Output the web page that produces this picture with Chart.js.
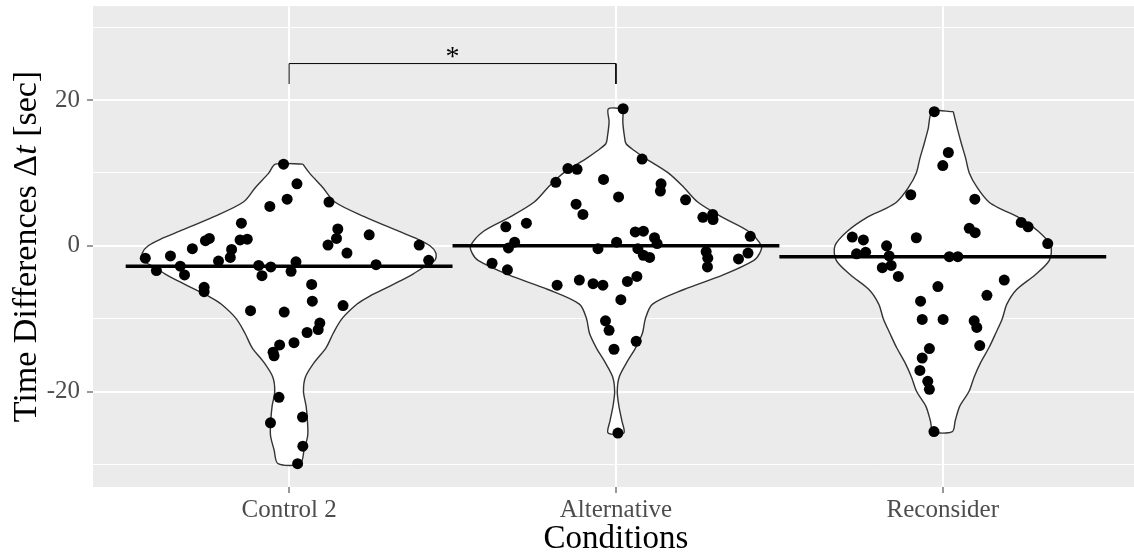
<!DOCTYPE html>
<html>
<head>
<meta charset="utf-8">
<title>Time differences by condition</title>
<script src="https://cdn.jsdelivr.net/npm/chart.js@4.4.1/dist/chart.umd.min.js"></script>
<style>
  html, body { margin: 0; padding: 0; background: #fff; overflow: hidden; }
  canvas { display: block; }
</style>
</head>
<body>
<canvas id="violinChart" width="1134" height="554"></canvas>
<script>
// Conditions on the x axis, placed at 1, 2, 3
const categories = ['Control 2', 'Alternative', 'Reconsider'];

// Observed time differences (sec) and the horizontal jitter of each dot
const control2Values = [11.2, 8.5, 6.4, 5.4, 6.0, 3.1, 1.0, 0.7, -0.4, -1.4, -1.7, -3.4, -2.8, -4.0, -5.7, -6.3,
  -2.1, -0.5, -1.6, 0.8, 0.9, -2.7, -4.1, -2.9, -2.2, -3.5, -5.3, -7.6, 2.3, 1.0, 0.1, -1.0, 1.5, -2.6, 0.1, -2.0,
  -8.9, -9.1, -8.2, -10.6, -11.5, -11.9, -13.3, -13.6, -14.6, -15.1, -20.8, -24.3, -23.5, -27.5, -29.9];
const control2Jitter = [-0.017, 0.024, -0.006, -0.059, 0.122, -0.146, -0.244, -0.256, -0.296, -0.363, -0.44, -0.406, -0.333, -0.32, -0.26, -0.26,
  -0.216, -0.176, -0.18, -0.15, -0.128, -0.093, -0.083, -0.056, 0.021, 0.006, 0.069, 0.071, 0.149, 0.145, 0.119, 0.177, 0.245, 0.266, 0.398, 0.427,
  -0.118, -0.015, 0.165, 0.094, 0.089, 0.055, 0.015, -0.029, -0.049, -0.046, -0.031, -0.057, 0.041, 0.042, 0.026];

const alternativeValues = [18.8, 11.9, 10.6, 10.5, 9.1, 8.7, 8.5, 7.5, 6.7, 5.7, 4.3, 6.3, 3.9, 4.3, 3.6, 1.3,
  2.6, 3.1, 0.5, -0.3, 1.9, 2.0, 1.1, 0.3, 0.5, -0.4, -0.4, -1.3, -1.6, -0.8, -1.7, -2.9, -1.0, -1.8, -2.4, -3.3,
  -5.4, -4.7, -5.2, -5.4, -4.9, -4.2, -7.4, -10.3, -11.6, -14.2, -13.1, -25.7];
const alternativeJitter = [0.022, 0.08, -0.147, -0.119, -0.038, -0.184, 0.138, 0.136, 0.008, -0.122, -0.101, 0.213, 0.266, 0.296, 0.297, 0.411,
  -0.337, -0.274, -0.31, -0.329, 0.059, 0.084, 0.118, 0.126, 0.002, -0.055, 0.067, 0.084, 0.103, 0.276, 0.281, 0.28, 0.404, 0.375, -0.379, -0.332,
  -0.18, -0.112, -0.07, -0.04, 0.035, 0.064, 0.015, -0.032, -0.021, -0.006, 0.062, 0.006];

const reconsiderValues = [18.4, 12.8, 11.0, 7.0, 6.4, 3.2, 2.6, 0.3, 2.4, 1.8, 1.1, 1.2, 0.8, 0.0, -1.1, -0.9,
  -1.4, -1.5, -1.5, -3.0, -2.7, -4.2, -5.6, -4.7, -6.8, -7.6, -10.1, -10.1, -10.3, -11.2, -13.7, -14.1, -15.4,
  -17.1, -18.6, -19.7, -25.5];
const reconsiderJitter = [-0.026, 0.017, 0.0, -0.098, 0.098, 0.24, 0.261, 0.321, 0.081, 0.099, -0.081, -0.277, -0.243, -0.172, -0.264, -0.236,
  -0.164, 0.02, 0.046, -0.185, -0.158, -0.136, -0.015, 0.188, 0.135, -0.068, -0.063, 0.001, 0.096, 0.104, 0.113, -0.041, -0.063,
  -0.07, -0.046, -0.041, -0.027];

// Violin outlines: density half-widths (x units) at the listed levels (sec)
const control2Levels = [11.2, 10, 8, 6, 4, 2, 1, 0, -1, -2, -3, -4, -5, -6, -7, -8, -10, -12, -14, -16, -18, -20, -22, -24, -26, -28, -29.9];
const control2Widths = [0.042, 0.062, 0.103, 0.14, 0.23, 0.335, 0.389, 0.431, 0.449, 0.446, 0.41, 0.375, 0.332, 0.288, 0.243, 0.208, 0.162, 0.135, 0.113, 0.077, 0.05, 0.044, 0.052, 0.056, 0.057, 0.046, 0.034];

const alternativeLevels = [18.8, 17, 15, 14, 13, 12, 10, 8, 6, 4, 2, 0, -1, -2, -4, -6, -8, -10, -12, -14, -16, -18, -20, -22, -24, -25.7];
const alternativeWidths = [0.023, 0.021, 0.026, 0.031, 0.058, 0.09, 0.16, 0.208, 0.25, 0.322, 0.405, 0.445, 0.44, 0.422, 0.328, 0.208, 0.112, 0.09, 0.081, 0.06, 0.033, 0.01, 0.004, 0.009, 0.018, 0.024];

const reconsiderLevels = [18.4, 16, 14, 12, 10, 8, 6, 5, 4, 2, 0, -2, -4, -6, -8, -10, -12, -14, -16, -18, -20, -22, -24, -25.5];
const reconsiderWidths = [0.032, 0.045, 0.057, 0.07, 0.081, 0.105, 0.141, 0.18, 0.228, 0.292, 0.33, 0.326, 0.282, 0.226, 0.196, 0.182, 0.162, 0.141, 0.116, 0.096, 0.08, 0.052, 0.038, 0.029];

// Median of each condition (crossbar)
const medians = [-2.8, 0.0, -1.5];

// Significance bracket between Control 2 and Alternative
const bracketPair = [1, 2];
const bracketTop = 25;
const bracketFoot = 22.2;
const starLevel = 26.5;
const starLabel = '*';

// y axis grid / tick values
const yGridValues = [-30, -20, -10, 0, 10, 20, 30];
const yLabelled = [-20, 0, 20];

const xTitle = 'Conditions';

Chart.defaults.font.family = '"Liberation Serif", "DejaVu Serif", serif';

function violinOutline(center, levels, widths) {
    const right = levels.map((y, i) => ({ x: center + widths[i], y: y }));
    const left = levels.map((y, i) => ({ x: center - widths[i], y: y })).reverse();
    return right.concat(left, [right[0]]);
}

function dots(center, values, jitter) {
    return values.map((v, i) => ({ x: center + jitter[i], y: v }));
}

// keep the panel exactly where the axes say, no extra label padding
function noPadding(scale) {
    scale.paddingTop = 0;
    scale.paddingBottom = 0;
    scale.paddingLeft = 0;
    scale.paddingRight = 0;
}

const violinSets = [
    [control2Levels, control2Widths],
    [alternativeLevels, alternativeWidths],
    [reconsiderLevels, reconsiderWidths]
].map(([levels, widths], i) => ({
    type: 'line',
    data: violinOutline(i + 1, levels, widths),
    showLine: true,
    fill: 'shape',
    backgroundColor: '#ffffff',
    borderColor: '#333333',
    borderWidth: 1.4,
    tension: 0.3,
    pointRadius: 0,
    order: 4
}));

const dotSets = [
    [control2Values, control2Jitter],
    [alternativeValues, alternativeJitter],
    [reconsiderValues, reconsiderJitter]
].map(([values, jitter], i) => ({
    type: 'scatter',
    data: dots(i + 1, values, jitter),
    pointRadius: 5.5,
    pointBorderWidth: 0,
    pointBackgroundColor: '#000000',
    order: 3
}));

const medianSets = medians.map((m, i) => ({
    type: 'line',
    data: [{ x: i + 0.5, y: m }, { x: i + 1.5, y: m }],
    showLine: true,
    borderColor: '#000000',
    borderWidth: 3.5,
    borderCapStyle: 'butt',
    pointRadius: 0,
    fill: false,
    order: 2
}));

const bracketSet = {
    type: 'line',
    data: [
        { x: bracketPair[0], y: bracketFoot },
        { x: bracketPair[0], y: bracketTop },
        { x: bracketPair[1], y: bracketTop },
        { x: bracketPair[1], y: bracketFoot }
    ],
    showLine: true,
    borderColor: '#000000',
    borderWidth: 1,
    pointRadius: 0,
    fill: false,
    order: 1
};

// Grey panel behind the grid, plus the axis titles and the significance star
const panelText = {
    id: 'panelText',
    beforeDraw(chart) {
        const { ctx, chartArea } = chart;
        ctx.save();
        ctx.fillStyle = '#ffffff';
        ctx.fillRect(0, 0, chart.width, chart.height);
        ctx.fillStyle = '#EBEBEB';
        ctx.fillRect(chartArea.left, chartArea.top, chartArea.right - chartArea.left, chartArea.bottom - chartArea.top);
        ctx.restore();
    },
    afterDraw(chart) {
        const { ctx, chartArea, scales } = chart;
        const family = '"Liberation Serif", "DejaVu Serif", serif';
        ctx.save();
        ctx.fillStyle = '#000000';

        // x axis title
        ctx.font = '33px ' + family;
        ctx.textAlign = 'center';
        ctx.textBaseline = 'alphabetic';
        ctx.fillText(xTitle, scales.x.getPixelForValue(2), 548);

        // y axis title, with an italic t
        const parts = [
            ['Time Differences \u0394', 'normal'],
            ['t', 'italic'],
            [' [sec]', 'normal']
        ];
        let total = 0;
        parts.forEach(p => {
            ctx.font = p[1] + ' 34px ' + family;
            total += ctx.measureText(p[0]).width;
        });
        ctx.translate(36, (chartArea.top + chartArea.bottom) / 2);
        ctx.rotate(-Math.PI / 2);
        ctx.textAlign = 'left';
        let pos = -total / 2;
        parts.forEach(p => {
            ctx.font = p[1] + ' 34px ' + family;
            ctx.fillText(p[0], pos, 0);
            pos += ctx.measureText(p[0]).width;
        });
        ctx.setTransform(1, 0, 0, 1, 0, 0);

        // significance star above the bracket
        ctx.font = '28px ' + family;
        ctx.textAlign = 'center';
        ctx.textBaseline = 'alphabetic';
        const m = ctx.measureText(starLabel);
        const sx = scales.x.getPixelForValue((bracketPair[0] + bracketPair[1]) / 2);
        const sy = scales.y.getPixelForValue(starLevel);
        ctx.fillText(starLabel, sx, sy + (m.actualBoundingBoxAscent - m.actualBoundingBoxDescent) / 2);
        ctx.restore();
    }
};

const ctx = document.getElementById('violinChart').getContext('2d');

new Chart(ctx, {
    type: 'scatter',
    data: {
        datasets: [bracketSet, ...medianSets, ...dotSets, ...violinSets]
    },
    options: {
        responsive: false,
        animation: false,
        devicePixelRatio: 1,
        layout: { autoPadding: false, padding: { top: 6, left: 0, right: 0, bottom: 0 } },
        plugins: {
            legend: { display: false },
            tooltip: { enabled: false }
        },
        scales: {
            x: {
                type: 'linear',
                min: 0.4,
                max: 3.585,
                afterBuildTicks: (scale) => { scale.ticks = categories.map((c, i) => ({ value: i + 1 })); },
                afterFit: (scale) => { scale.height = 67; noPadding(scale); },
                ticks: {
                    autoSkip: false,
                    maxRotation: 0,
                    padding: 2,
                    color: '#4D4D4D',
                    font: { size: 25 },
                    callback: (value) => categories[value - 1]
                },
                grid: {
                    color: '#ffffff',
                    lineWidth: 2,
                    tickColor: '#333333',
                    tickLength: 6,
                    tickWidth: 1
                },
                border: { display: false }
            },
            y: {
                type: 'linear',
                min: -33.1,
                max: 32.9,
                afterBuildTicks: (scale) => { scale.ticks = yGridValues.map(v => ({ value: v })); },
                afterFit: (scale) => { scale.width = 93; noPadding(scale); },
                ticks: {
                    padding: 7,
                    color: '#4D4D4D',
                    font: { size: 25 },
                    callback: (value) => yLabelled.includes(value) ? String(value) : ''
                },
                grid: {
                    color: '#ffffff',
                    lineWidth: (c) => yLabelled.includes(c.tick.value) ? 2 : 1,
                    tickColor: (c) => yLabelled.includes(c.tick.value) ? '#333333' : 'rgba(0,0,0,0)',
                    tickLength: 6,
                    tickWidth: 1
                },
                border: { display: false }
            }
        }
    },
    plugins: [panelText]
});
</script>
</body>
</html>
